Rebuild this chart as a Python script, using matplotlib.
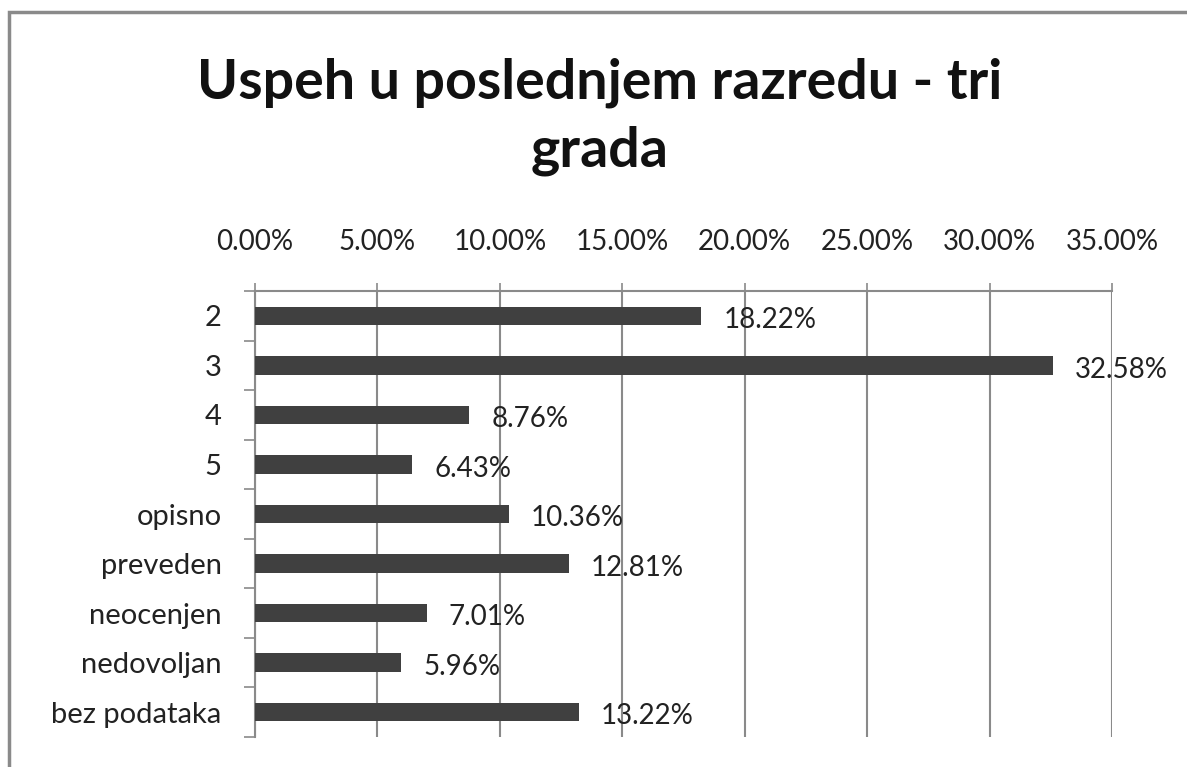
import matplotlib.pyplot as plt
from matplotlib.ticker import FuncFormatter, FixedLocator
from matplotlib.patches import Rectangle

categories = ['2', '3', '4', '5', 'opisno', 'preveden', 'neocenjen', 'nedovoljan', 'bez podataka']
values = [18.22, 32.58, 8.76, 6.43, 10.36, 12.81, 7.01, 5.96, 13.22]
xticks = [0, 5, 10, 15, 20, 25, 30, 35]
title = 'Uspeh u poslednjem razredu - tri\ngrada'

plt.rcParams['font.family'] = ['Lato', 'DejaVu Sans']

fig = plt.figure(figsize=(11.87, 7.67), dpi=100)
fig.patches.append(Rectangle((9 / 1187, -0.05), 1.2, 1 - 12 / 767 + 0.05,
                             transform=fig.transFigure, fill=False,
                             edgecolor='#8a8a8a', linewidth=2.5))

ax = fig.add_axes([255 / 1187, 1 - 737 / 767, (1112 - 255) / 1187, (737 - 291) / 767])

ypos = list(range(len(categories)))
ax.barh(ypos, values, height=0.37, color='#404040', zorder=3)

for y, v in zip(ypos, values):
    ax.annotate(f'{v:.2f}%', (v, y), xytext=(16, -3), textcoords='offset points',
                va='center', ha='left', fontsize=20, color='#222222', zorder=4)

ax.set_xlim(0, 35)
ax.set_ylim(len(categories) - 0.5, -0.5)

ax.xaxis.set_major_locator(FixedLocator(xticks))
ax.xaxis.set_major_formatter(FuncFormatter(lambda x, p: f'{x:.2f}%'))
ax.xaxis.tick_top()
ax.tick_params(axis='x', direction='out', length=6, width=1.2, color='#8a8a8a',
               pad=20, labelsize=20, labelcolor='#222222')
ax.grid(axis='x', color='#8a8a8a', linewidth=1.5, zorder=0)

ax.set_yticks(ypos)
ax.set_yticklabels(categories)
ax.set_yticks([i - 0.5 for i in range(len(categories) + 1)], minor=True)
ax.tick_params(axis='y', which='major', length=0, pad=24, labelsize=21, labelcolor='#222222')
ax.tick_params(axis='y', which='minor', length=8, width=1.2, color='#8a8a8a', direction='out')

for s in ['bottom', 'right']:
    ax.spines[s].set_visible(False)
for s in ['top', 'left']:
    ax.spines[s].set_color('#8a8a8a')
    ax.spines[s].set_linewidth(1.5)

fig.text(600 / 1187, 1 - 117 / 767, title, ha='center', va='center',
         fontsize=40, fontweight='bold', color='#111111', linespacing=1.42)

fig.savefig('out.png', dpi=100)
